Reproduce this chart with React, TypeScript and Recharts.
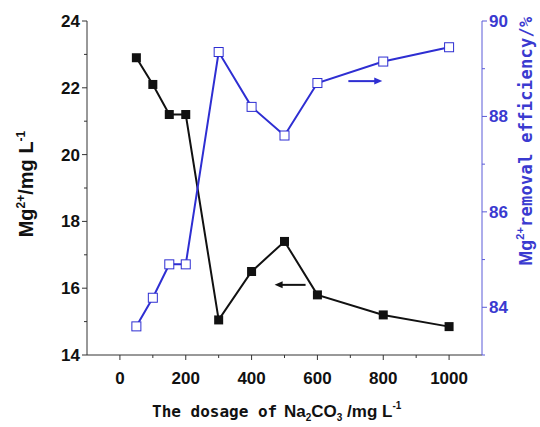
import React from 'react';
import { LineChart, Line, XAxis, YAxis, ReferenceLine } from 'recharts';

const dosage = [50, 100, 150, 200, 300, 400, 500, 600, 800, 1000];
const mgConc = [22.9, 22.1, 21.2, 21.2, 15.05, 16.5, 17.4, 15.8, 15.2, 14.85];
const removal = [83.6, 84.2, 84.9, 84.9, 89.35, 88.2, 87.6, 88.7, 89.15, 89.45];

const xTicks = [0, 100, 200, 300, 400, 500, 600, 700, 800, 900, 1000];
const leftTicks = [14, 15, 16, 17, 18, 19, 20, 21, 22, 23, 24];
const rightTicks = [83, 84, 85, 86, 87, 88, 89, 90];

const data = dosage.map((d, i) => ({ dosage: d, mg: mgConc[i], removal: removal[i] }));

const BLUE = '#2e2ed2';
const BLUE_TEXT = '#3a3ad0';
const AXIS = '#333';
const SANS = '"Liberation Sans", Arial, sans-serif';
const MONO = '"DejaVu Sans Mono", "Liberation Mono", monospace';

const BottomTick = (p: any) => {
  const v = p.payload.value;
  const major = v % 200 === 0;
  return (
    <g>
      <line x1={p.x} x2={p.x} y1={p.y} y2={p.y + (major ? 5 : 3)} stroke={AXIS} strokeWidth={1} />
      {major && (
        <text x={p.x} y={p.y + 29} textAnchor="middle" fontFamily={SANS} fontWeight="bold" fontSize={17} fill="#111">
          {v}
        </text>
      )}
    </g>
  );
};

const TopTick = (p: any) => {
  const v = p.payload.value;
  const major = v % 200 === 0;
  return <line x1={p.x} x2={p.x} y1={p.y} y2={p.y + (major ? 5 : 3)} stroke={AXIS} strokeWidth={1} />;
};

const LeftTick = (p: any) => {
  const v = p.payload.value;
  const major = v % 2 === 0;
  return (
    <g>
      <line x1={p.x} x2={p.x - (major ? 5 : 3)} y1={p.y} y2={p.y} stroke={AXIS} strokeWidth={1} />
      {major && (
        <text x={p.x - 7} y={p.y + 6} textAnchor="end" fontFamily={SANS} fontWeight="bold" fontSize={17} fill="#111">
          {v}
        </text>
      )}
    </g>
  );
};

const RightTick = (p: any) => {
  const v = p.payload.value;
  const major = v % 2 === 0;
  return (
    <g>
      <line x1={p.x} x2={p.x + (major ? 5 : 3)} y1={p.y} y2={p.y} stroke="#5a5ad8" strokeWidth={1} />
      {major && (
        <text x={p.x + 7} y={p.y + 6} textAnchor="start" fontFamily={SANS} fontWeight="bold" fontSize={17} fill={BLUE_TEXT}>
          {v}
        </text>
      )}
    </g>
  );
};

const XLabel = (props: any) => {
  const vb = props.viewBox || {};
  const y = vb.y + 62;
  return (
    <g>
      <text x={152} y={y} textAnchor="start" fill="#111" fontWeight="bold" fontFamily={MONO} fontSize={16}>
        The dosage of
      </text>
      <text x={284} y={y} textAnchor="start" fill="#111" fontWeight="bold" fontFamily={SANS} fontSize={17}>
        Na
        <tspan fontSize={10} dy={4}>2</tspan>
        <tspan dy={-4}>CO</tspan>
        <tspan fontSize={10} dy={4}>3</tspan>
        <tspan dy={-4}> /mg L</tspan>
        <tspan fontSize={10} dy={-8}>-1</tspan>
      </text>
    </g>
  );
};

const LeftLabel = () => {
  const cx = 33;
  const cy = 184;
  return (
    <text x={cx} y={cy} transform={`rotate(-90, ${cx}, ${cy})`} textAnchor="middle" fill="#111" fontWeight="bold" fontFamily={SANS} fontSize={20}>
      Mg
      <tspan fontSize={12} dy={-8}>2+</tspan>
      <tspan dy={8}>/mg L</tspan>
      <tspan fontSize={12} dy={-8}>-1</tspan>
    </text>
  );
};

const RightLabel = () => {
  const cx = 532;
  const cy = 141;
  return (
    <text x={cx} y={cy} transform={`rotate(-90, ${cx}, ${cy})`} textAnchor="middle" fill={BLUE_TEXT} fontWeight="bold" fontSize={17}>
      <tspan fontFamily={SANS} fontSize={18}>Mg</tspan>
      <tspan fontFamily={SANS} fontSize={11} dy={-8}>2+</tspan>
      <tspan fontFamily={MONO} dy={8} letterSpacing={0.3}>removal efficiency/%</tspan>
    </text>
  );
};

const arrowShape = (color: string) => (p: any) => {
  const { x1, y1, x2, y2 } = p;
  const dir = x2 > x1 ? 1 : -1;
  const hx = x2;
  return (
    <g>
      <line x1={x1} y1={y1} x2={x2 - dir * 6} y2={y2} stroke={color} strokeWidth={2} />
      <path d={`M${hx},${y2} L${hx - dir * 8},${y2 - 3.5} L${hx - dir * 8},${y2 + 3.5} Z`} fill={color} />
    </g>
  );
};

const blackDot = (p: any) => (
  <rect key={`b${p.index}`} x={p.cx - 4.5} y={p.cy - 4.5} width={9} height={9} fill="#111" />
);
const blueDot = (p: any) => (
  <rect key={`w${p.index}`} x={p.cx - 4.5} y={p.cy - 4.5} width={9} height={9} fill="#fff" stroke={BLUE} strokeWidth={1} />
);

export default function App() {
  return (
    <div style={{ position: 'absolute', left: 0, top: 0, background: '#fff' }}>
      <LineChart width={540} height={427} data={data} margin={{ top: 21, right: 0, bottom: 0, left: 0 }}>
        <XAxis
          xAxisId="bottom"
          dataKey="dosage"
          type="number"
          domain={[-100, 1100]}
          ticks={xTicks}
          height={72}
          tickSize={0}
          tickMargin={0}
          tickLine={false}
          axisLine={{ stroke: AXIS, strokeWidth: 1 }}
          tick={<BottomTick />}
          interval={0}
          label={{ content: XLabel }}
        />
        <XAxis
          xAxisId="top"
          orientation="top"
          dataKey="dosage"
          type="number"
          domain={[-100, 1100]}
          ticks={xTicks}
          height={0}
          tickSize={0}
          tickMargin={0}
          tickLine={false}
          axisLine={{ stroke: AXIS, strokeWidth: 1 }}
          tick={(p: any) => <TopTick {...p} y={21} />}
          interval={0}
        />
        <YAxis
          yAxisId="left"
          type="number"
          domain={[14, 24]}
          ticks={leftTicks}
          width={87}
          tickSize={0}
          tickMargin={0}
          tickLine={false}
          axisLine={{ stroke: AXIS, strokeWidth: 1 }}
          tick={<LeftTick />}
          interval={0}
          label={{ content: LeftLabel }}
        />
        <YAxis
          yAxisId="right"
          orientation="right"
          type="number"
          domain={[83, 90]}
          ticks={rightTicks}
          width={58}
          tickSize={0}
          tickMargin={0}
          tickLine={false}
          axisLine={{ stroke: '#5a5ad8', strokeWidth: 1 }}
          tick={<RightTick />}
          interval={0}
          label={{ content: RightLabel }}
        />
        <ReferenceLine
          xAxisId="bottom"
          yAxisId="right"
          segment={[{ x: 694, y: 88.74 }, { x: 797, y: 88.74 }]}
          shape={arrowShape(BLUE)}
          ifOverflow="extendDomain"
        />
        <ReferenceLine
          xAxisId="bottom"
          yAxisId="left"
          segment={[{ x: 564, y: 16.1 }, { x: 470, y: 16.1 }]}
          shape={arrowShape('#111')}
          ifOverflow="extendDomain"
        />
        <Line
          xAxisId="bottom"
          yAxisId="left"
          dataKey="mg"
          stroke="#111"
          strokeWidth={2}
          dot={blackDot}
          isAnimationActive={false}
        />
        <Line
          xAxisId="bottom"
          yAxisId="right"
          dataKey="removal"
          stroke={BLUE}
          strokeWidth={2}
          dot={blueDot}
          isAnimationActive={false}
        />
      </LineChart>
    </div>
  );
}
